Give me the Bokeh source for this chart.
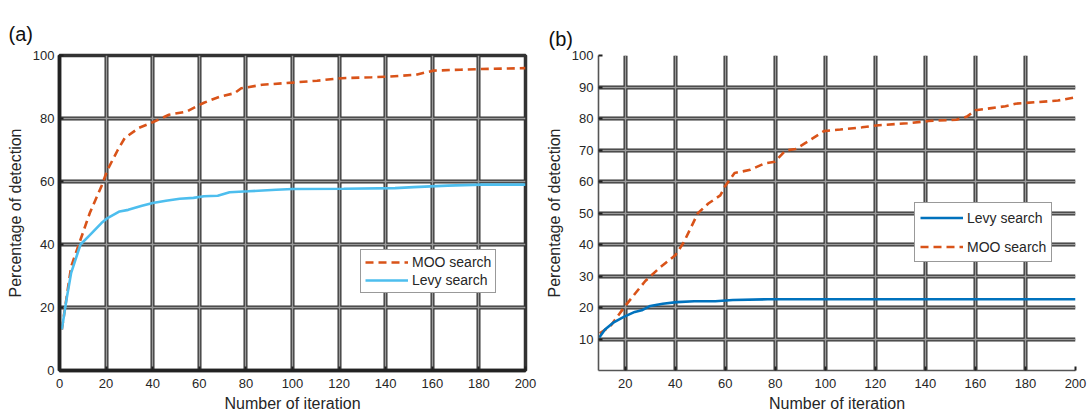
from bokeh.plotting import figure
from bokeh.layouts import row
from bokeh.models import FixedTicker, Grid, Legend, LegendItem, Range1d
from bokeh.embed import file_html
from bokeh.resources import INLINE

# ---------------- data: panel (a) ----------------
a_moo_x = [1, 5, 9, 13, 18, 20.6, 25, 28, 34, 40, 47, 54.5, 62, 69, 75, 78, 87, 100,
           110.5, 121, 134, 141.5, 153, 160.6, 172, 181, 200]
a_moo_y = [13, 33, 41.5, 50, 58.5, 63.7, 70, 73.8, 77, 78.8, 81.2, 82.2, 85, 87, 88,
           89.6, 90.7, 91.4, 92, 92.8, 93.1, 93.3, 93.9, 95.2, 95.5, 95.7, 96]
a_levy_x = [1, 3, 5, 9, 13, 18, 20.6, 25.8, 29.5, 35.4, 40, 45.7, 51.6, 57.5, 62, 67.9,
            73, 81, 93, 100, 122, 144, 152, 166.5, 181, 200]
a_levy_y = [13, 22.5, 31, 40, 43, 46.8, 48.4, 50.5, 51, 52.3, 53.2, 53.9, 54.5, 54.8,
            55.3, 55.5, 56.6, 56.9, 57.4, 57.6, 57.7, 57.9, 58.2, 58.7, 59, 59]
a_xticks = [0, 20, 40, 60, 80, 100, 120, 140, 160, 180, 200]
a_yticks = [0, 20, 40, 60, 80, 100]

# ---------------- data: panel (b) ----------------
b_levy_x = [9.6, 11.9, 15.4, 19.6, 23.8, 26.6, 30, 35, 40.6, 47.6, 56, 63, 77, 200]
b_levy_y = [10.5, 13, 15.3, 17.1, 18.6, 19.1, 20.5, 21.2, 21.7, 22, 22, 22.4, 22.6, 22.6]
b_moo_x = [9.8, 14, 20, 23.8, 28, 33.6, 40, 43.4, 46.2, 49, 53.2, 58, 60, 63.7, 70, 75.6,
           79.8, 84, 88, 92.4, 99.4, 106, 114.7, 120.3, 132.8, 141.3, 152.4, 156.6, 160,
           166.4, 172, 176, 184.6, 193, 200]
b_moo_y = [11.8, 14, 20.5, 24.3, 28.4, 32.5, 36.6, 40.7, 45.3, 49.9, 53, 55.6, 58.6, 62.7,
           63.7, 65.7, 66.3, 69.8, 70.3, 72.4, 76, 76.5, 77.2, 77.8, 78.5, 79.2, 79.6,
           80.6, 82.6, 83.3, 83.9, 84.7, 85.2, 85.7, 86.7]
b_xticks = [20, 40, 60, 80, 100, 120, 140, 160, 180, 200]
b_yticks = [10, 20, 30, 40, 50, 60, 70, 80, 90, 100]

MOO_COLOR = "#D95319"
LEVY_A_COLOR = "#4DBEEE"
LEVY_B_COLOR = "#0072BD"
FONT = "Liberation Sans"
TXT = "#262626"


def make_fig(width, height, left, right, top, bottom, xr, yr, xt, yt, title, tstand,
             axis_w, axis_c, outline):
    p = figure(width=width, height=height, x_range=Range1d(*xr), y_range=Range1d(*yr),
               output_backend="svg", toolbar_location=None,
               min_border_left=left, min_border_right=right,
               min_border_top=top, min_border_bottom=bottom)
    p.title.text = title
    p.title.text_font = FONT
    p.title.text_font_size = "20px"
    p.title.text_font_style = "normal"
    p.title.text_color = "#111111"
    p.title.align = "left"
    p.title.offset = -(left - 8)
    p.title.standoff = tstand
    if outline:
        p.outline_line_color = "#333333"
        p.outline_line_width = 3.5
    else:
        p.outline_line_color = None
    p.background_fill_color = "white"
    p.border_fill_color = "white"
    for ax, ticks in ((p.xaxis[0], xt), (p.yaxis[0], yt)):
        ax.ticker = FixedTicker(ticks=ticks)
        ax.major_label_text_font = FONT
        ax.major_label_text_font_size = "13px"
        ax.major_label_text_color = TXT
        ax.axis_label_text_font = FONT
        ax.axis_label_text_font_size = "16px"
        ax.axis_label_text_font_style = "normal"
        ax.axis_label_text_color = TXT
        ax.axis_line_width = axis_w
        ax.axis_line_color = axis_c
        ax.major_tick_in = 4
        ax.major_tick_out = 0
        ax.major_tick_line_width = 2
        ax.major_tick_line_color = "#222222"
        ax.minor_tick_line_color = None
    p.xaxis.axis_label = "Number of iteration"
    p.yaxis.axis_label = "Percentage of detection"
    p.xaxis.major_label_standoff = 8
    p.yaxis.major_label_standoff = 5
    p.xaxis.axis_label_standoff = 4
    p.yaxis.axis_label_standoff = 6
    # outer dark grid
    for g in (p.xgrid[0], p.ygrid[0]):
        g.grid_line_color = "#333333"
        g.grid_line_width = 4
        g.grid_line_alpha = 1.0
    # inner lighter core of the grid lines
    p.add_layout(Grid(dimension=0, ticker=p.xaxis[0].ticker,
                      grid_line_color="#9a9a9a", grid_line_width=1.5))
    p.add_layout(Grid(dimension=1, ticker=p.yaxis[0].ticker,
                      grid_line_color="#9a9a9a", grid_line_width=1.5))
    return p


# ---------------- panel (a) ----------------
pa = make_fig(540, 419, 59, 15, 55, 49, (0, 200), (0, 100), a_xticks, a_yticks,
              "(a)", 22, 3.5, "#222222", True)
ra_moo = pa.line(a_moo_x, a_moo_y, line_color=MOO_COLOR, line_width=2.6, line_dash="8 5")
ra_levy = pa.line(a_levy_x, a_levy_y, line_color=LEVY_A_COLOR, line_width=2.6)
leg_a = Legend(items=[LegendItem(label="MOO search", renderers=[ra_moo]),
                      LegendItem(label="Levy search", renderers=[ra_levy])],
               location=(301, 77), glyph_width=43, glyph_height=16, label_height=16,
               spacing=2, padding=4, margin=0, label_standoff=4,
               label_text_font=FONT, label_text_font_size="14px", label_text_color=TXT,
               border_line_color="#333333", border_line_width=1.3,
               background_fill_color="white", background_fill_alpha=1.0)
pa.add_layout(leg_a)

# ---------------- panel (b) ----------------
pb = make_fig(547, 419, 58, 12, 45, 49, (9.3, 200), (0, 100), b_xticks, b_yticks,
              "(b)", 12, 1.6, "#555555", False)
rb_moo = pb.line(b_moo_x, b_moo_y, line_color=MOO_COLOR, line_width=2.6, line_dash="8 5")
rb_levy = pb.line(b_levy_x, b_levy_y, line_color=LEVY_B_COLOR, line_width=2.6)
leg_b = Legend(items=[LegendItem(label="Levy search", renderers=[rb_levy]),
                      LegendItem(label="MOO search", renderers=[rb_moo])],
               location=(316, 108), glyph_width=43, glyph_height=19, label_height=19,
               spacing=10, padding=5, margin=0, label_standoff=4,
               label_text_font=FONT, label_text_font_size="14px", label_text_color=TXT,
               border_line_color="#333333", border_line_width=1.3,
               background_fill_color="white", background_fill_alpha=1.0)
pb.add_layout(leg_b)

layout = row(pa, pb)
open("out.html", "w").write(file_html(layout, INLINE))
